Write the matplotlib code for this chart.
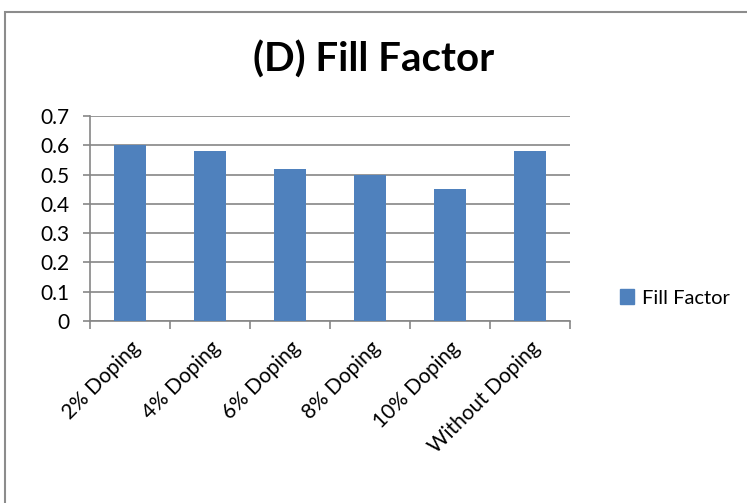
import matplotlib.pyplot as plt
from matplotlib.patches import Rectangle, Patch

# data
categories = ['2% Doping', '4% Doping', '6% Doping', '8% Doping', '10% Doping', 'Without Doping']
fill_factor = [0.60, 0.58, 0.52, 0.50, 0.45, 0.58]
yticks = [0, 0.1, 0.2, 0.3, 0.4, 0.5, 0.6, 0.7]

bar_color = '#4f81bd'
axis_color = '#868686'

plt.rcParams['font.family'] = ['Lato', 'DejaVu Sans']

W, H = 747, 503
fig = plt.figure(figsize=(W / 100, H / 100), dpi=100)

# plot area in pixels: x 90..570, y 116..321
ax = fig.add_axes([90 / W, 1 - 321 / H, 480 / W, 205 / H])

x = range(len(categories))
ax.bar(x, fill_factor, width=0.4, color=bar_color, zorder=3, label='Fill Factor')

ax.set_xlim(-0.5, len(categories) - 0.5)
ax.set_ylim(0, 0.7)
ax.set_yticks(yticks)
ax.set_yticklabels(['0' if v == 0 else f'{v:.1f}' for v in yticks], fontsize=15)
ax.yaxis.grid(True, color=axis_color, linewidth=1.2, zorder=0)

# category ticks at the boundaries, labels at centres
ax.set_xticks([i - 0.5 for i in range(len(categories) + 1)])
ax.set_xticklabels([])
ax.set_xticks(list(x), minor=True)
ax.set_xticklabels(categories, minor=True, rotation=45, ha='right',
                   rotation_mode='anchor', fontsize=15)
ax.tick_params(axis='x', which='minor', length=0, pad=12)
ax.tick_params(axis='x', which='major', length=6, color=axis_color, width=1.2)
ax.tick_params(axis='y', length=5, color=axis_color, width=1.2, pad=10)

for side in ['top', 'right']:
    ax.spines[side].set_visible(False)
for side in ['left', 'bottom']:
    ax.spines[side].set_color(axis_color)
    ax.spines[side].set_linewidth(1.2)

fig.text(374 / W, 1 - 60 / H, '(D) Fill Factor', ha='center', va='center',
         fontsize=29, fontweight='bold')

fig.legend(handles=[Patch(color=bar_color, label='Fill Factor')],
           loc='center left', bbox_to_anchor=(602 / W, 1 - 298 / H),
           frameon=False, fontsize=14.5, handlelength=0.7, handleheight=0.7,
           handletextpad=0.4)

# chart frame
fig.patches.append(Rectangle((5 / W, -0.05), 1.1, 1 - 12 / H + 0.05,
                             transform=fig.transFigure, fill=False,
                             edgecolor='#8c8c8c', linewidth=1.5, clip_on=False))

fig.savefig('out.png', dpi=100)
